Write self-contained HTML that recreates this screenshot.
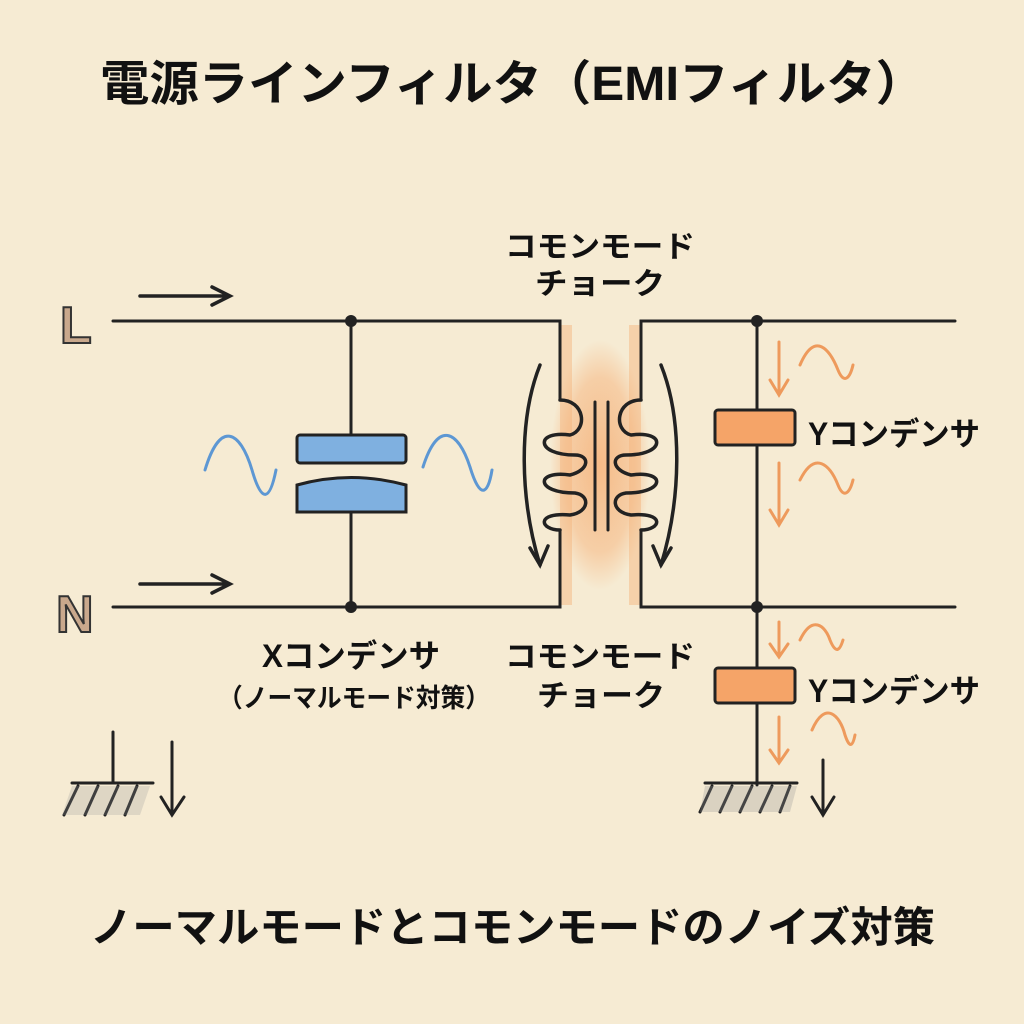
<!DOCTYPE html>
<html><head><meta charset="utf-8"><style>
html,body{margin:0;padding:0;background:#f6ebd3;}
svg{display:block}
text{font-family:"Liberation Sans","Noto Sans CJK JP",sans-serif;font-weight:bold;fill:#111;}
</style></head><body>
<svg width="1024" height="1024" viewBox="0 0 1024 1024" xmlns="http://www.w3.org/2000/svg">
<defs>
<radialGradient id="og" cx="50%" cy="50%" r="50%"><stop offset="0" stop-color="#f5b27a" stop-opacity="0.85"/><stop offset="0.7" stop-color="#f5b27a" stop-opacity="0.5"/><stop offset="1" stop-color="#f5b27a" stop-opacity="0"/></radialGradient>
</defs>
<rect width="1024" height="1024" fill="#f6ebd3"/>
<text x="100" y="100" font-size="48" textLength="825" lengthAdjust="spacingAndGlyphs">電源ラインフィルタ（EMIフィルタ）</text>

<!-- choke glow -->
<rect x="560" y="325" width="12" height="280" fill="#f5c08f" opacity="0.6"/>
<rect x="629" y="325" width="12" height="280" fill="#f5c08f" opacity="0.6"/>
<ellipse cx="600" cy="465" rx="50" ry="125" fill="url(#og)"/>

<g stroke="#222" stroke-width="3" fill="none" stroke-linecap="round">
<path d="M113 321 H560 V400"/>
<path d="M560 530 V607 H113"/>
<path d="M955 321 H641 V400"/>
<path d="M641 530 V607 H955"/>
<path d="M560 400 C585 400 588 430 570 435 C535 430 535 455 575 455 C590 455 590 470 570 475 C535 470 535 493 575 493 C590 495 590 512 570 515 C535 512 540 530 560 530" stroke-width="3.5"/>
<path d="M641 400 C616 400 613 430 631 435 C666 430 666 455 626 455 C611 455 611 470 631 475 C666 470 666 493 626 493 C611 495 611 512 631 515 C666 512 661 530 641 530" stroke-width="3.5"/>
<line x1="595" y1="402" x2="595" y2="530"/>
<line x1="608" y1="402" x2="608" y2="530"/>
<path d="M540 365 C518 420 520 500 540 565" stroke-width="3.5"/>
<path d="M530 548 L540 565 L548 546" stroke-width="3.5"/>
<path d="M661 365 C683 420 681 500 661 565" stroke-width="3.5"/>
<path d="M653 546 L661 565 L671 548" stroke-width="3.5"/>
<line x1="351" y1="321" x2="351" y2="437"/>
<line x1="351" y1="510" x2="351" y2="607"/>
<line x1="757" y1="321" x2="757" y2="785"/>
<path d="M140 296 H228 M212 287 L230 296 L212 305" stroke-width="3.5"/>
<path d="M140 584 H228 M212 575 L230 584 L212 593" stroke-width="3.5"/>
<line x1="113" y1="732" x2="113" y2="783"/>
<line x1="72" y1="783" x2="153" y2="783"/>
<path d="M78 786 L64 815 M98 786 L85 815 M118 786 L105 815 M137 786 L125 815"/>
<path d="M172 742 V815 M161 797 L172 815 L184 797"/>
<line x1="705" y1="783" x2="797" y2="783"/>
<path d="M712 786 L700 812 M732 786 L720 812 M752 786 L740 812 M772 786 L760 812 M790 786 L780 812"/>
<path d="M823 760 V815 M812 797 L823 815 L834 797"/>
</g>
<g fill="#222"><circle cx="351" cy="321" r="6"/><circle cx="351" cy="607" r="6"/><circle cx="757" cy="321" r="6"/><circle cx="757" cy="607" r="6"/></g>
<path d="M72 786 H150 L140 815 H62Z" fill="#999" opacity="0.25"/>
<path d="M705 786 H797 L790 812 H700Z" fill="#999" opacity="0.3"/>

<rect x="297" y="435" width="109" height="28" rx="3" fill="#7fb0e0" stroke="#222" stroke-width="3"/>
<path d="M297 485 Q351 470 406 485 V512 H297Z" fill="#7fb0e0" stroke="#222" stroke-width="3"/>
<g stroke="#5d97d3" stroke-width="3" fill="none" stroke-linecap="round">
<path d="M205 470 C220 420 240 430 252 470 C262 505 270 500 276 470"/>
<path d="M423 467 C438 420 458 430 470 467 C480 500 488 495 492 470"/>
</g>

<rect x="715" y="410" width="80" height="35" rx="3" fill="#f5a468" stroke="#222" stroke-width="3"/>
<rect x="715" y="668" width="80" height="35" rx="3" fill="#f5a468" stroke="#222" stroke-width="3"/>
<g stroke="#ee9a5c" stroke-width="3" fill="none" stroke-linecap="round">
<path d="M779 342 V393 M770 380 L779 395 L788 380"/>
<path d="M800 365 C815 330 830 350 838 370 C844 385 850 378 853 365"/>
<path d="M779 463 V525 M770 510 L779 525 L788 510"/>
<path d="M800 480 C815 450 830 465 838 485 C844 500 850 492 853 480"/>
<path d="M779 622 V655 M770 644 L779 657 L788 644"/>
<path d="M800 640 C812 615 825 625 830 640 C836 655 840 650 843 640"/>
<path d="M779 717 V762 M770 750 L779 763 L788 750"/>
<path d="M812 730 C825 700 840 715 845 735 C850 750 853 745 855 735"/>
</g>

<text x="60" y="343" font-size="52" style="fill:#c9a88c;stroke:#333;stroke-width:2">L</text>
<text x="56" y="632" font-size="52" style="fill:#c9a88c;stroke:#333;stroke-width:2">N</text>

<text x="505" y="257" font-size="30" textLength="190" lengthAdjust="spacingAndGlyphs">コモンモード</text>
<text x="535" y="294" font-size="30" textLength="130" lengthAdjust="spacingAndGlyphs">チョーク</text>
<text x="505" y="667" font-size="30" textLength="190" lengthAdjust="spacingAndGlyphs">コモンモード</text>
<text x="537" y="706" font-size="30" textLength="128" lengthAdjust="spacingAndGlyphs">チョーク</text>
<text x="262" y="667" font-size="32" textLength="178" lengthAdjust="spacingAndGlyphs">Xコンデンサ</text>
<text x="218" y="707" font-size="26" textLength="272" lengthAdjust="spacingAndGlyphs">（ノーマルモード対策）</text>
<text x="808" y="445" font-size="32" textLength="172" lengthAdjust="spacingAndGlyphs">Yコンデンサ</text>
<text x="808" y="702" font-size="32" textLength="172" lengthAdjust="spacingAndGlyphs">Yコンデンサ</text>
<text x="90" y="942" font-size="42" textLength="845" lengthAdjust="spacingAndGlyphs">ノーマルモードとコモンモードのノイズ対策</text>
</svg>
</body></html>
